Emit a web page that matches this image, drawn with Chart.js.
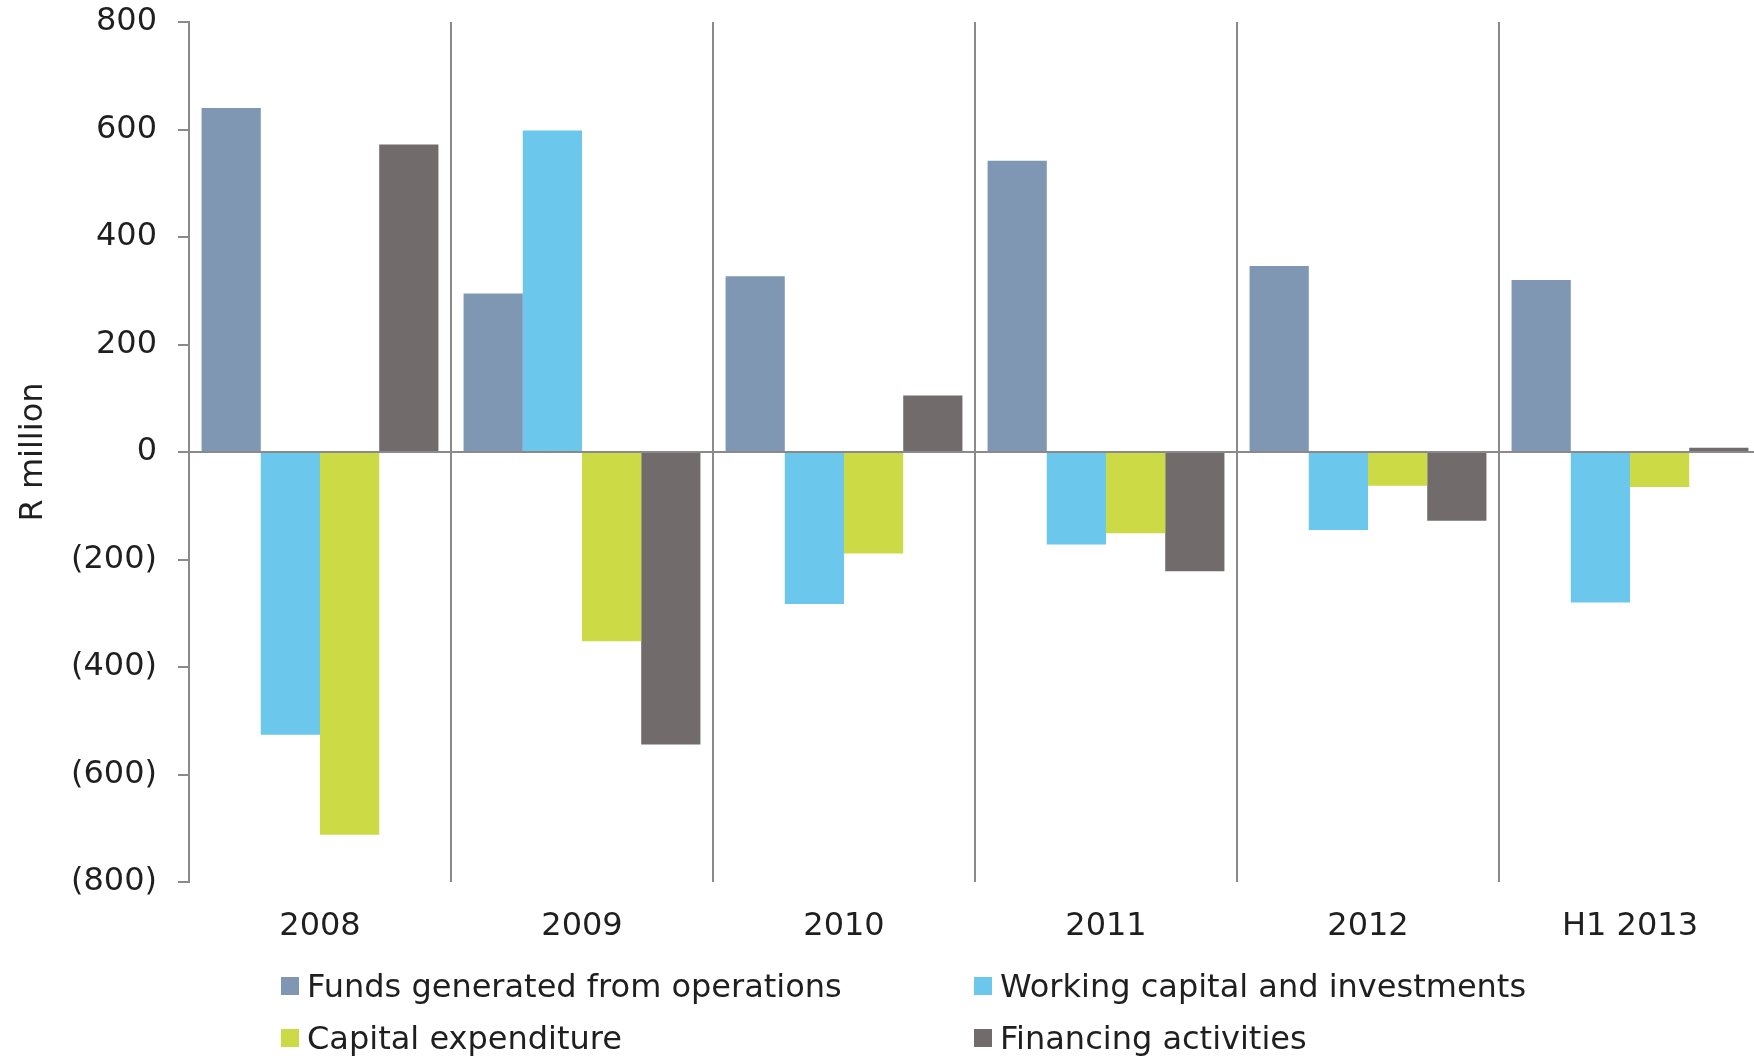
<!DOCTYPE html>
<html>
<head>
<meta charset="utf-8">
<script src="https://cdn.jsdelivr.net/npm/chart.js@4.4.1/dist/chart.umd.min.js"></script>
<style>
  html, body { margin: 0; padding: 0; background: #ffffff; overflow: hidden; width: 1754px; height: 1059px; }
  #wrap { position: absolute; left: 0; top: 0; width: 1761px; height: 1059px; }
  #c { display: block; }
  .lg { position: absolute; display: flex; align-items: center; height: 36px;
        font-family: 'DejaVu Sans', Verdana, sans-serif; font-size: 32px; line-height: 36px; color: #1f1f1f; white-space: nowrap; }
  .lg i { display: inline-block; width: 18px; height: 18px; margin-right: 8px; }
</style>
</head>
<body>
<div id="wrap">
  <canvas id="c" width="1761" height="1059"></canvas>
  <div id="legend"></div>
</div>
<script>
const categories = ['2008', '2009', '2010', '2011', '2012', 'H1 2013'];
const seriesNames = ['Funds generated from operations', 'Working capital and investments', 'Capital expenditure', 'Financing activities'];
const fundsFromOperations = [640, 295, 327, 542, 346, 320];
const workingCapital = [-526, 598, -283, -172, -145, -280];
const capitalExpenditure = [-712, -352, -189, -151, -63, -65];
const financingActivities = [572, -544, 105, -222, -128, 8];
const seriesColors = ['#7F97B2', '#6CC7EC', '#CCDA46', '#716C6B'];
const yTickValues = [-800, -600, -400, -200, 0, 200, 400, 600, 800];
const yAxisTitle = 'R million';

const seriesValues = [fundsFromOperations, workingCapital, capitalExpenditure, financingActivities];
const FONT = "'DejaVu Sans', Verdana, sans-serif";
const AXIS = '#8a8a8a';
const TEXT = '#1f1f1f';

Chart.defaults.font.family = FONT;
Chart.defaults.font.size = 32;
Chart.defaults.color = TEXT;

const chart = new Chart(document.getElementById('c'), {
  type: 'bar',
  data: {
    labels: categories,
    datasets: seriesNames.map((name, i) => ({
      label: name,
      data: seriesValues[i],
      backgroundColor: seriesColors[i],
      borderWidth: 0,
      categoryPercentage: 0.904,
      barPercentage: 1.0
    }))
  },
  options: {
    responsive: false,
    animation: false,
    devicePixelRatio: 1,
    layout: { padding: { top: 22, right: 0, bottom: 0, left: 0 } },
    plugins: { legend: { display: false }, tooltip: { enabled: false } },
    scales: {
      x: {
        z: 1,
        offset: true,
        border: { display: false },
        grid: { offset: true, color: AXIS, lineWidth: 2, drawTicks: false },
        ticks: { padding: 25, color: TEXT, font: { size: 32 }, maxRotation: 0 },
        afterFit: (s) => { s.height = 177; s.paddingLeft = 0; s.paddingRight = 0; }
      },
      y: {
        z: 1,
        min: -800,
        max: 800,
        afterBuildTicks: (s) => { s.ticks = yTickValues.map(v => ({ value: v })); },
        border: { display: true, color: AXIS, width: 2 },
        grid: {
          color: (ctx) => (ctx.tick && ctx.tick.value === 0) ? AXIS : 'rgba(0,0,0,0)',
          lineWidth: 2,
          tickColor: AXIS,
          tickLength: 11,
          drawTicks: true
        },
        ticks: {
          padding: 21,
          color: TEXT,
          font: { size: 32 },
          callback: (v) => v < 0 ? '(' + Math.abs(v) + ')' : String(v)
        },
        title: { display: true, text: yAxisTitle, color: TEXT, font: { size: 32 }, padding: { top: 14, bottom: 0 } },
        afterFit: (s) => { s.width = 189; s.paddingTop = 0; s.paddingBottom = 0; }
      }
    }
  }
});

// HTML legend built from the series arrays (2 columns x 2 rows)
const legendCols = [281, 974];
const legendRows = [968, 1020];
const lg = document.getElementById('legend');
seriesNames.forEach((name, i) => {
  const d = document.createElement('div');
  d.className = 'lg';
  d.style.left = legendCols[i % 2] + 'px';
  d.style.top = legendRows[Math.floor(i / 2)] + 'px';
  const sw = document.createElement('i');
  sw.style.background = seriesColors[i];
  d.appendChild(sw);
  d.appendChild(document.createTextNode(name));
  lg.appendChild(d);
});
</script>
</body>
</html>
